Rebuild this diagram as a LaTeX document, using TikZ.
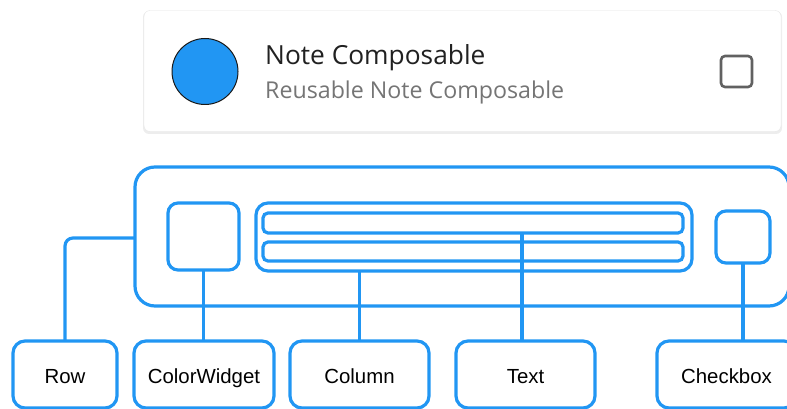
\documentclass[tikz,border=0pt]{standalone}
\usepackage{fontspec}
\setmainfont{Liberation Sans}
\newfontfamily\robo{Open Sans}
\definecolor{mblue}{HTML}{2196F3}
\definecolor{ttl}{HTML}{212121}
\definecolor{subt}{HTML}{757575}
\begin{document}
\begin{tikzpicture}[x=1pt,y=-1pt,
  blu/.style={draw=mblue, line width=3.2pt},
  box/.style={blu, rectangle, inner sep=0pt, outer sep=0pt},
  lbl/.style={box, rounded corners=12pt, minimum height=67pt, font=\fontsize{20.4}{21}\selectfont, text=black, text depth=0pt, text height=18.5pt}]
\useasboundingbox (0,0) rectangle (787,409);
\clip (0,0) rectangle (787,409);
% card
\fill[black!7, rounded corners=6pt] (143,11) rectangle (782,134);
\node[draw=black!9, fill=white, rounded corners=6pt, minimum width=637pt, minimum height=121pt, inner sep=0pt] (card) at (462.5,71) {};
\node[circle, fill=mblue, draw=black!90, line width=1pt, minimum size=66pt, inner sep=0pt] (circ) at (205,71.5) {};
\node[anchor=base west, inner sep=0pt, text=ttl, font=\robo\fontsize{26.3}{28}\selectfont] (title) at (265,65) {Note Composable};
\node[anchor=base west, inner sep=0pt, text=subt, font=\robo\fontsize{23.2}{25}\selectfont] (sub) at (265,99) {Reusable Note Composable};
\node[draw=black!62, line width=2.6pt, rounded corners=4pt, minimum size=31pt, inner sep=0pt] (chk) at (736.5,71.5) {};
% structure
\node[box, rounded corners=20pt, minimum width=654pt, minimum height=139pt] (big) at (462,236.5) {};
\node[box, rounded corners=10pt, minimum width=71pt, minimum height=67pt] (cw) at (203.5,236.5) {};
\node[box, rounded corners=12pt, minimum width=436pt, minimum height=68pt] (col) at (474,237) {};
\node[box, rounded corners=5pt, minimum width=420pt, minimum height=20pt] (t1) at (473,223) {};
\node[box, rounded corners=5pt, minimum width=420pt, minimum height=19pt] (t2) at (473,251.5) {};
\node[box, rounded corners=10pt, minimum width=54pt, minimum height=52pt] (cb) at (743,237) {};
% labels
\node[lbl, minimum width=104pt] (row) at (65,374.5) {Row};
\node[lbl, minimum width=140pt] (colorw) at (204,374.5) {ColorWidget};
\node[lbl, minimum width=139pt] (column) at (359.5,374.5) {Column};
\node[lbl, minimum width=139pt] (text) at (525.5,374.5) {Text};
\node[lbl, minimum width=139pt] (checkbox) at (726.5,374.5) {Checkbox};
% connectors
\draw[blu, rounded corners=8pt] ([yshift=-1.5pt]big.west) -- ([yshift=-1.5pt]big.west -| row.north) -- (row.north);
\draw[blu] (cw.south) -- (cw.south |- colorw.north);
\draw[blu] (col.south -| column.north) -- (column.north);
\draw[blu] ([xshift=-3.5pt]t1.south -| text.north) -- ([xshift=-3.5pt]text.north);
\draw[blu] (cb.south) -- (cb.south |- checkbox.north);
\end{tikzpicture}
\end{document}
